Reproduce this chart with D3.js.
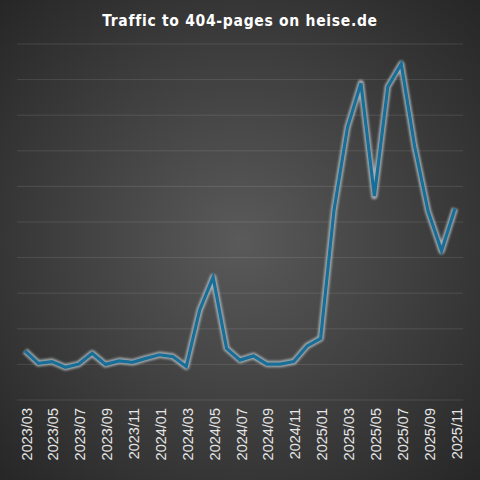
<!DOCTYPE html>
<html><head><meta charset="utf-8">
<script src="https://cdn.jsdelivr.net/npm/d3@7"></script>
<style>html,body{margin:0;padding:0;background:#2b2b2b;}svg{display:block;}</style>
</head><body>
<script>
const months = ["2023/03","2023/04","2023/05","2023/06","2023/07","2023/08","2023/09","2023/10","2023/11","2023/12",
"2024/01","2024/02","2024/03","2024/04","2024/05","2024/06","2024/07","2024/08","2024/09","2024/10","2024/11","2024/12",
"2025/01","2025/02","2025/03","2025/04","2025/05","2025/06","2025/07","2025/08","2025/09","2025/10","2025/11"];
const traffic = [1.38,1.03,1.08,0.92,1.01,1.31,1.00,1.10,1.06,1.17,1.27,1.22,0.94,2.53,3.45,1.45,1.12,1.24,1.01,1.01,1.08,1.52,1.73,5.34,7.66,8.90,5.73,8.80,9.44,7.12,5.30,4.19,5.38];
const gridTicks = [0,1,2,3,4,5,6,7,8,9,10];
const tickLabels = months.filter((m,i)=>i%2===0);
const title = "Traffic to 404-pages on heise.de";

const W=480,H=480;
const svg=d3.select("body").append("svg").attr("width",W).attr("height",H);
const defs=svg.append("defs");
const rg=defs.append("radialGradient").attr("id","bg").attr("cx","50%").attr("cy","50%").attr("r","71%");
rg.append("stop").attr("offset","0%").attr("stop-color","#5a5a5a");
rg.append("stop").attr("offset","100%").attr("stop-color","#262626");
const f=defs.append("filter").attr("id","glow").attr("x","-10%").attr("y","-10%").attr("width","120%").attr("height","120%");
f.append("feGaussianBlur").attr("stdDeviation",1.2);
svg.append("rect").attr("width",W).attr("height",H).attr("fill","url(#bg)");

const x=d3.scalePoint().domain(months).range([25,455]);
const y=d3.scaleLinear().domain([0,10]).range([400,44]);

svg.append("g").selectAll("line").data(gridTicks).join("line")
 .attr("x1",17).attr("x2",463).attr("y1",d=>y(d)).attr("y2",d=>y(d))
 .attr("stroke","#ffffff").attr("stroke-opacity",0.11).attr("stroke-width",1);

const xAxis=d3.axisBottom(x).tickValues(tickLabels).tickSize(0).tickPadding(0);
const gx=svg.append("g").attr("transform","translate(0,400)").call(xAxis);
gx.select(".domain").remove();
gx.selectAll("text").attr("transform","rotate(-90)").attr("text-anchor","end")
 .attr("x",-8).attr("y",1).attr("dy","0.35em")
 .attr("fill","#e6e6e6").attr("font-family","Liberation Sans, Arial, sans-serif").attr("font-size",14.5);

const line=d3.line().x((d,i)=>x(months[i])).y(d=>y(d));
svg.append("path").datum(traffic).attr("d",line).attr("fill","none")
 .attr("stroke","#b4bcc0").attr("stroke-width",6.5).attr("stroke-linejoin","round").attr("stroke-opacity",0.85).attr("filter","url(#glow)");
svg.append("path").datum(traffic).attr("d",line).attr("fill","none")
 .attr("stroke","#176e98").attr("stroke-width",3.2).attr("stroke-linejoin","miter");

svg.append("text").attr("x",240).attr("y",26).attr("text-anchor","middle")
 .attr("fill","#ffffff").attr("font-family","DejaVu Sans Condensed, DejaVu Sans").attr("font-stretch","condensed")
 .attr("font-weight","bold").attr("font-size",15.5).attr("letter-spacing",0.7).text(title);
</script>
</body></html>
